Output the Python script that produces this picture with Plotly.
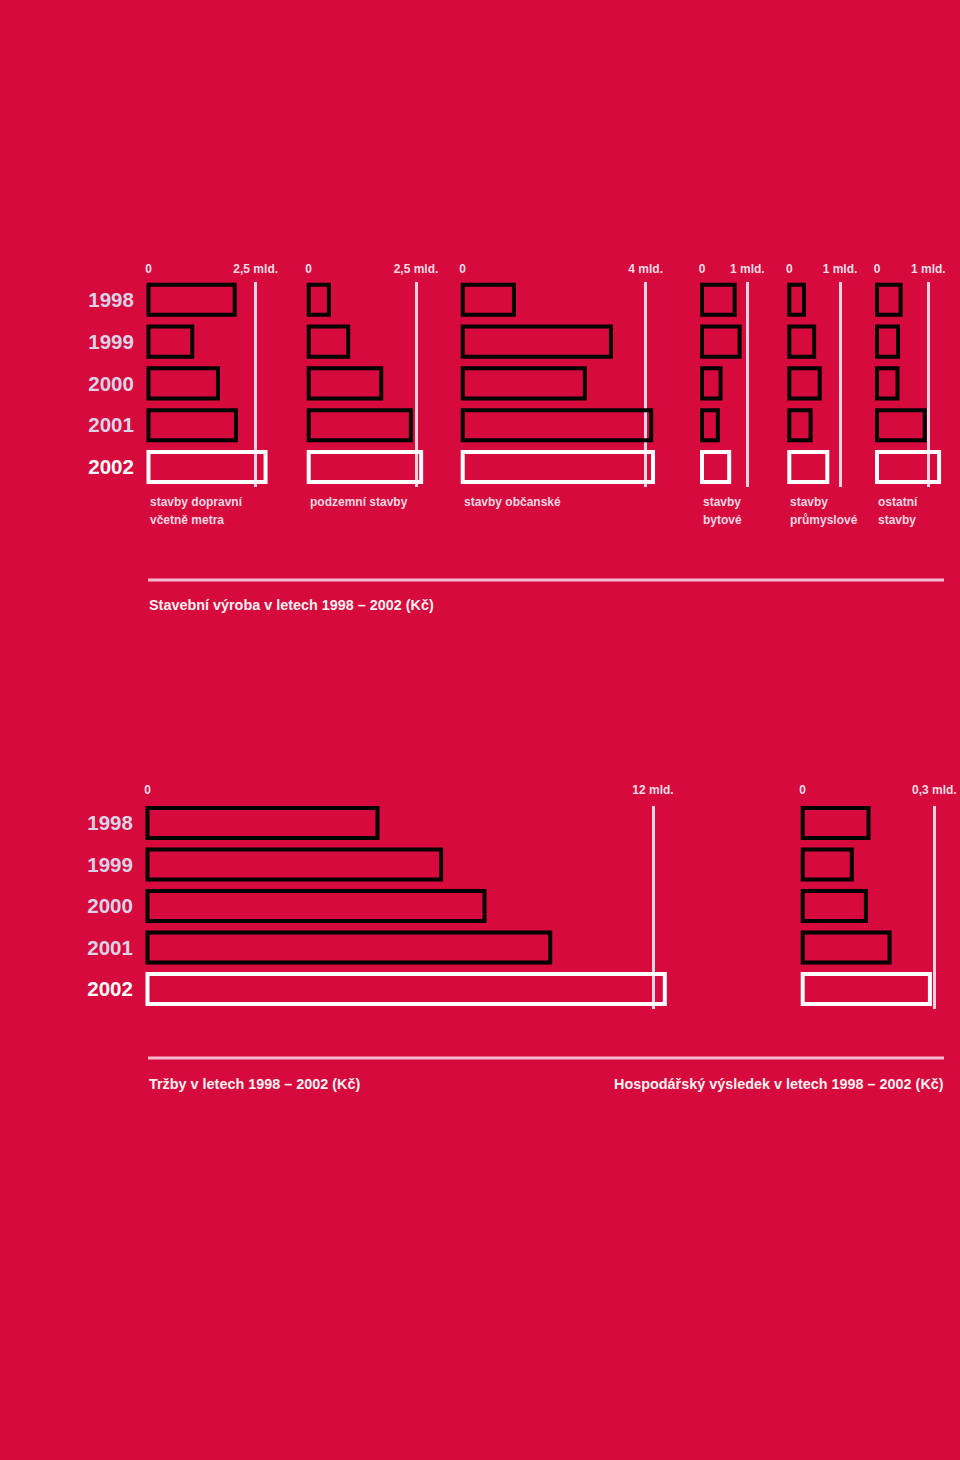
import plotly.graph_objects as go

# ---------------- data ----------------
years = ["1998", "1999", "2000", "2001", "2002"]

# Stavební výroba (mld. Kč)
stavby_dopravni = [2.01, 1.02, 1.62, 2.04, 2.73]
podzemni_stavby = [0.47, 0.92, 1.69, 2.38, 2.62]
stavby_obcanske = [1.12, 3.24, 2.67, 4.12, 4.16]
stavby_bytove = [0.72, 0.83, 0.41, 0.35, 0.60]
stavby_prumyslove = [0.29, 0.49, 0.60, 0.42, 0.75]
ostatni_stavby = [0.46, 0.41, 0.40, 0.93, 1.21]

# Tržby a hospodářský výsledek (mld. Kč)
trzby = [5.46, 6.97, 8.00, 9.56, 12.28]
hospodarsky_vysledek = [0.150, 0.112, 0.144, 0.198, 0.290]

ref_values = [2.5, 2.5, 4, 1, 1, 1, 12, 0.3]
ref_labels = ["2,5 mld.", "2,5 mld.", "4 mld.", "1 mld.", "1 mld.", "1 mld.", "12 mld.", "0,3 mld."]

name_line1 = ["stavby dopravní", "podzemní stavby", "stavby občanské", "stavby", "stavby", "ostatní"]
name_line2 = ["včetně metra", "", "", "bytové", "průmyslové", "stavby"]

title_top = "Stavební výroba v letech 1998 – 2002 (Kč)"
title_bottom_left = "Tržby v letech 1998 – 2002 (Kč)"
title_bottom_right = "Hospodářský výsledek v letech 1998 – 2002 (Kč)"

series = [stavby_dopravni, podzemni_stavby, stavby_obcanske, stavby_bytove,
          stavby_prumyslove, ostatni_stavby, trzby, hospodarsky_vysledek]

# ---------------- layout / style ----------------
W, H = 960, 1460
BG = "#D60A3C"
REF_COLOR = "#EFD3E2"
TICK_COLOR = "#F3DCE6"
YEAR_COLOR = "#DAD3E7"
LABEL_COLOR = "#F3D6E2"
TITLE_COLOR = "#FBEFF3"
SEP_COLOR = "#F1BBD0"
FONT = "Liberation Sans, Arial, sans-serif"

# pixel geometry of each panel: zero position, reference-tick position, domain
geom = [
    dict(zero=148.5, refpx=255.7, left=144, right=273, row=0),
    dict(zero=308.7, refpx=416.0, left=304, right=430, row=0),
    dict(zero=462.7, refpx=645.7, left=458, right=660, row=0),
    dict(zero=702.0, refpx=747.3, left=698, right=753, row=0),
    dict(zero=789.3, refpx=840.0, left=785, right=846, row=0),
    dict(zero=877.0, refpx=928.3, left=873, right=946, row=0),
    dict(zero=147.5, refpx=653.0, left=143, right=672, row=1),
    dict(zero=802.7, refpx=934.3, left=798, right=946, row=1),
]
rows = [
    dict(c0=299.8, pitch=41.8, top=282, bottom=487, tick_y=269),
    dict(c0=823.0, pitch=41.5, top=806, bottom=1009, tick_y=790),
]
BAR_W = 0.72
BAR_LINE = 4

fig = go.Figure()
layout = dict(
    width=W, height=H, autosize=False,
    margin=dict(l=0, r=0, t=0, b=0, pad=0, autoexpand=False),
    paper_bgcolor=BG, plot_bgcolor="rgba(0,0,0,0)", showlegend=False,
    font=dict(family=FONT),
)

for i, (vals, g) in enumerate(zip(series, geom)):
    n = "" if i == 0 else str(i + 1)
    r = rows[g["row"]]
    scale = (g["refpx"] - g["zero"]) / ref_values[i]
    xr = [(g["left"] - g["zero"]) / scale, (g["right"] - g["zero"]) / scale]
    yr = [(r["bottom"] - r["c0"]) / r["pitch"], (r["top"] - r["c0"]) / r["pitch"]]
    first_in_row = (i == 0 or i == 6)

    line_colors = ["#000000"] * (len(years) - 1) + ["#FFFFFF"]
    fig.add_trace(go.Bar(
        x=vals, y=years, orientation="h", width=BAR_W,
        xaxis="x" + n, yaxis="y" + n,
        marker=dict(color="rgba(0,0,0,0)", line=dict(color=line_colors, width=BAR_LINE)),
        hoverinfo="x+y",
    ))

    layout["xaxis" + n] = dict(
        domain=[g["left"] / W, g["right"] / W], range=xr, anchor="y" + n,
        side="top", tickmode="array", tickvals=[0, ref_values[i]],
        ticktext=["<b>0</b>", f"<b>{ref_labels[i]}</b>"],
        showgrid=False, zeroline=False, showline=False, automargin=False,
        ticks="outside", ticklen=r["top"] - r["tick_y"] - 10, tickcolor="rgba(0,0,0,0)",
        tickfont=dict(size=12, color=TICK_COLOR, family=FONT),
        minor=dict(tickmode="array", tickvals=[ref_values[i]], showgrid=True,
                   gridcolor=REF_COLOR, gridwidth=2.5, ticks=""),
        fixedrange=True,
    )
    ytext = [f'<b><span style="color:{YEAR_COLOR}">{y}</span></b>' for y in years[:-1]] + \
            [f'<b><span style="color:#FFFFFF">{years[-1]}</span></b>']
    layout["yaxis" + n] = dict(
        domain=[1 - r["bottom"] / H, 1 - r["top"] / H], range=yr, anchor="x" + n,
        type="category", categoryorder="array", categoryarray=years,
        showgrid=False, zeroline=False, showline=False, automargin=False,
        showticklabels=first_in_row, tickmode="array", tickvals=years, ticktext=ytext,
        ticks="outside" if first_in_row else "", ticklen=5, tickcolor="rgba(0,0,0,0)",
        tickfont=dict(size=20.5, color=YEAR_COLOR, family=FONT),
        fixedrange=True,
    )

annotations = []
for i in range(6):
    n = "" if i == 0 else str(i + 1)
    for txt, ypx in ((name_line1[i], 502), (name_line2[i], 520)):
        if txt:
            annotations.append(dict(
                text=f"<b>{txt}</b>", x=0, xref="x" + n, xanchor="left",
                y=1 - ypx / H, yref="paper", yanchor="middle", showarrow=False,
                font=dict(size=12, color=LABEL_COLOR, family=FONT), borderpad=0,
            ))

annotations += [
    dict(text=f"<b>{title_top}</b>", x=148 / W, xref="paper", xanchor="left",
         y=1 - 605 / H, yref="paper", yanchor="middle", showarrow=False,
         font=dict(size=14.4, color=TITLE_COLOR, family=FONT), borderpad=0),
    dict(text=f"<b>{title_bottom_left}</b>", x=148 / W, xref="paper", xanchor="left",
         y=1 - 1084 / H, yref="paper", yanchor="middle", showarrow=False,
         font=dict(size=14.4, color=TITLE_COLOR, family=FONT), borderpad=0),
    dict(text=f"<b>{title_bottom_right}</b>", x=945 / W, xref="paper", xanchor="right",
         y=1 - 1084 / H, yref="paper", yanchor="middle", showarrow=False,
         font=dict(size=14.4, color=TITLE_COLOR, family=FONT), borderpad=0),
]

shapes = [
    dict(type="line", xref="paper", yref="paper", x0=148 / W, x1=944 / W,
         y0=1 - 580 / H, y1=1 - 580 / H, line=dict(color=SEP_COLOR, width=3)),
    dict(type="line", xref="paper", yref="paper", x0=148 / W, x1=944 / W,
         y0=1 - 1058 / H, y1=1 - 1058 / H, line=dict(color=SEP_COLOR, width=3)),
]

layout["annotations"] = annotations
layout["shapes"] = shapes
fig.update_layout(**layout)

fig.write_html(
    "out.html",
    config={"displayModeBar": False, "responsive": False},
    post_script=(
        "document.documentElement.style.overflow='hidden';"
        "document.body.style.overflow='hidden';"
        "document.body.style.margin='0';"
        "document.body.style.background='" + BG + "';"
    ),
)
